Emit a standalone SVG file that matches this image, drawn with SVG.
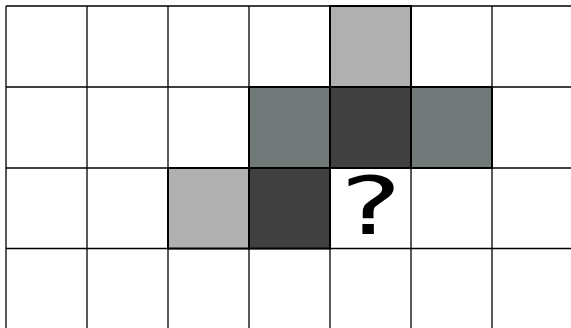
<svg xmlns="http://www.w3.org/2000/svg" width="571" height="328" viewBox="0 0 571 328">
<style>
.grid{stroke:#000;stroke-width:1.3;fill:none}
.cell{stroke:#000;stroke-width:2}
.light{fill:#b0b0b0}
.mid{fill:#707878}
.dark{fill:#404040}
.q{font-family:"DejaVu Sans",sans-serif;font-size:80px;fill:#000;text-anchor:middle}
</style>
<rect width="571" height="328" fill="#fff"/>
<g id="grid" class="grid">
<path d="M6,6H573M6,87H573M6,168H573M6,248.5H573"/>
<path d="M6,6V328M87,6V328M168,6V328M249,6V328M330,6V328M411,6V328M492,6V328"/>
</g>
<g id="c-4-0"><rect class="cell light" x="330" y="6" width="81" height="81"/></g>
<g id="c-3-1"><rect class="cell mid" x="249" y="87" width="81" height="81"/></g>
<g id="c-4-1"><rect class="cell dark" x="330" y="87" width="81" height="81"/></g>
<g id="c-5-1"><rect class="cell mid" x="411" y="87" width="81" height="81"/></g>
<g id="c-2-2"><rect class="cell light" x="168" y="168" width="81" height="80.5"/></g>
<g id="c-3-2"><rect class="cell dark" x="249" y="168" width="81" height="80.5"/></g>
<g id="c-4-2"><text class="q" transform="translate(371,234) scale(1.45,1)" x="0" y="0">?</text></g>
</svg>
